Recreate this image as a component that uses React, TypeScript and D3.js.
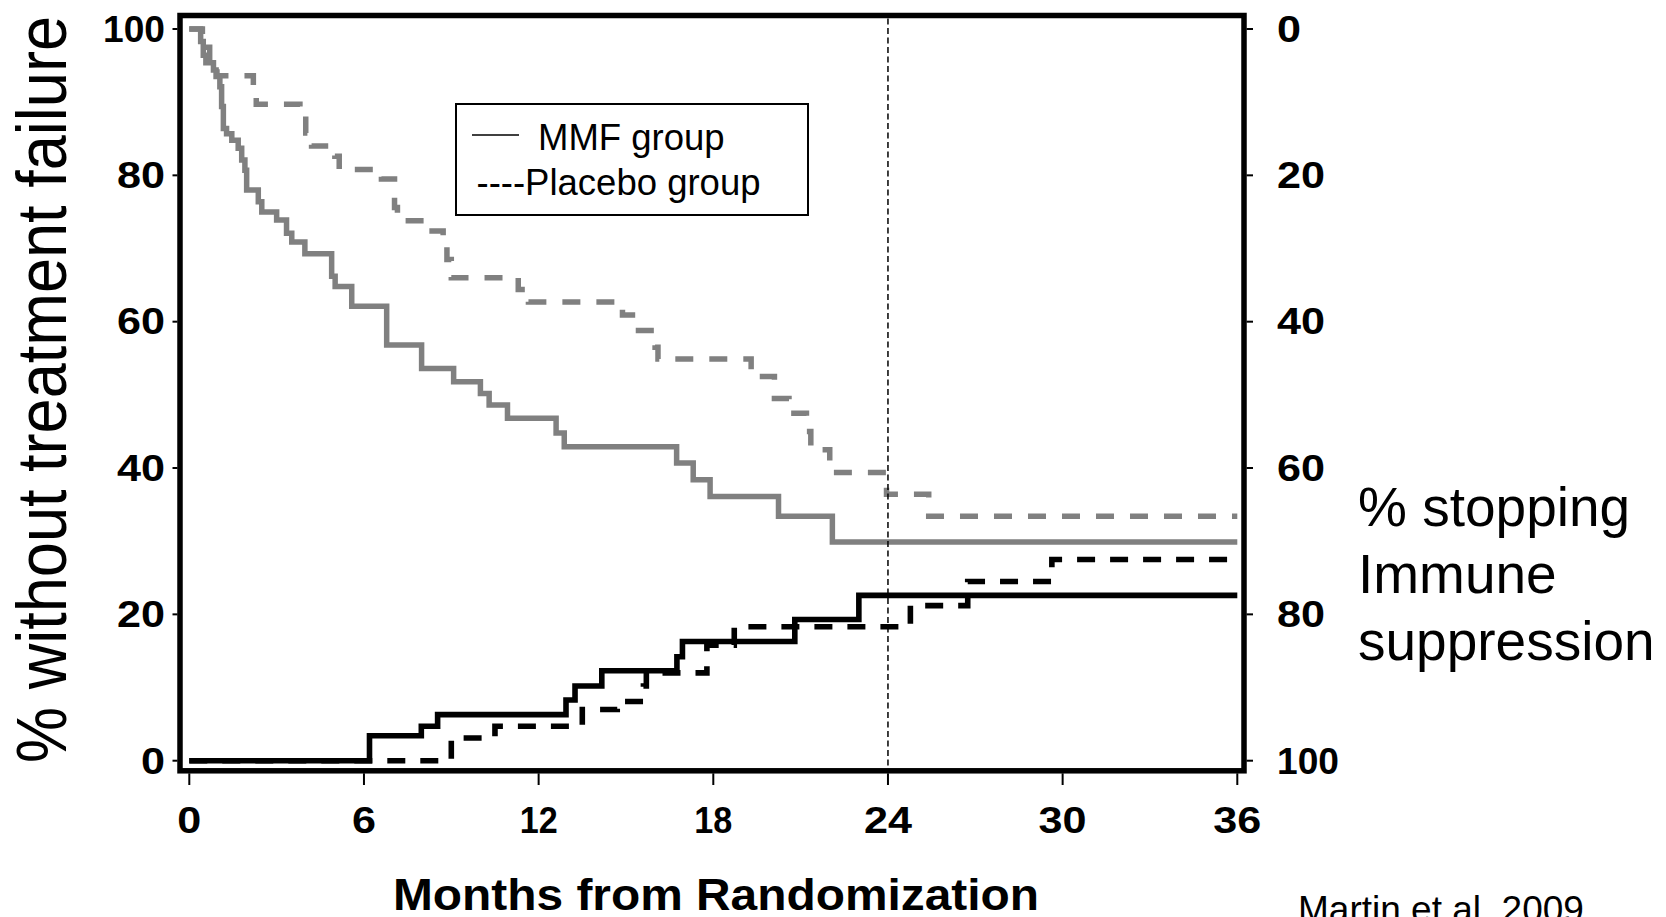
import React from "react";
import * as d3 from "d3";

// ---- data ----
const xTicks = [0, 6, 12, 18, 24, 30, 36];
const yLeftTicks = [0, 20, 40, 60, 80, 100];
const yRightTicks = [0, 20, 40, 60, 80, 100];

// % without treatment failure, MMF group (grey solid)
const mmfFreeTime = [0, 0.39, 0.48, 0.57, 0.83, 0.92, 1.05, 1.11, 1.17, 1.28, 1.46, 1.68, 1.8, 1.91, 1.97, 2.37, 2.49, 3.0, 3.34, 3.52, 3.97, 4.89, 5.01, 5.58, 6.78, 7.98, 9.08, 10.0, 10.3, 10.93, 12.6, 12.88, 16.74, 17.31, 17.89, 20.24, 22.09, 36];
const mmfFreeValue = [100, 98.3, 96.4, 95.4, 94.4, 93.5, 92.1, 89.4, 86.4, 85.7, 84.8, 83.7, 82.1, 80.7, 78.0, 76.4, 75.0, 73.9, 72.1, 70.9, 69.3, 66.2, 64.8, 62.1, 56.8, 53.6, 51.8, 50.2, 48.6, 46.8, 44.8, 42.9, 40.7, 38.4, 36.1, 33.4, 29.9, 29.9];

// % without treatment failure, Placebo group (grey dashed)
const plaFreeTime = [0, 0.45, 0.7, 0.95, 2.2, 2.3, 3.8, 4.0, 4.2, 5.0, 5.15, 6.6, 7.05, 7.15, 8.1, 8.72, 8.85, 9.0, 11.3, 11.65, 14.88, 15.43, 16.0, 16.1, 19.3, 20.1, 20.6, 21.2, 21.35, 22.0, 23.95, 25.4, 36];
const plaFreeValue = [100, 97.5, 95.5, 93.6, 91.5, 89.7, 88.3, 85.8, 84.0, 82.6, 80.8, 79.5, 75.6, 73.8, 72.4, 70.5, 68.5, 66.0, 64.4, 62.7, 60.9, 58.8, 56.5, 54.9, 52.5, 49.5, 47.5, 45.0, 42.5, 39.4, 36.4, 33.4, 33.4];

// stopping immune suppression, MMF group (black solid), in left-axis units
const mmfStopTime = [0, 6.19, 7.97, 8.53, 12.94, 13.25, 14.17, 16.75, 16.94, 20.8, 23.0, 36];
const mmfStopValue = [0, 3.4, 4.7, 6.3, 8.3, 10.2, 12.3, 14.2, 16.3, 19.3, 22.6, 22.6];

// stopping immune suppression, Placebo group (black dashed), in left-axis units
const plaStopTime = [0, 9.0, 10.5, 13.5, 14.7, 15.6, 15.7, 17.78, 18.72, 24.77, 26.74, 29.63, 36];
const plaStopValue = [0, 3.1, 4.7, 7.0, 8.1, 10.2, 12.0, 15.8, 18.3, 21.2, 24.5, 27.5, 27.5];

const cutoffMonth = 24;

const legendLabels = ["MMF group", "----Placebo group"];
const rightTitle = ["% stopping", "Immune", "suppression"];

const FONT = "'Liberation Sans', Arial, Helvetica, sans-serif";
const GREY = "#808080";

function zip(t: number[], v: number[]) {
  return t.map((x, i) => [x, v[i]] as [number, number]);
}

// approximate label widths: narrow "1" in the original font
function labelWidth(s: string) {
  let w = 0;
  for (const c of s) w += c === "1" ? 14 : 24;
  return w;
}

export default function App() {
  const W = 1666;
  const H = 917;
  const x = d3.scaleLinear().domain([0, 36]).range([189.3, 1237.3]);
  const yL = d3.scaleLinear().domain([0, 100]).range([760.7, 29]);
  const yR = d3.scaleLinear().domain([0, 100]).range([29, 760.7]);

  const line = d3
    .line<[number, number]>()
    .x((d) => x(d[0]))
    .y((d) => yL(d[1]))
    .curve(d3.curveStepAfter);

  const frame = { left: 180, right: 1244, top: 15.5, bottom: 770.8 };

  return (
    <svg
      width={W}
      height={H}
      style={{ position: "absolute", left: 0, top: 0, display: "block", background: "#fff" }}
      fontFamily={FONT}
    >
      <rect x={0} y={0} width={W} height={H} fill="#fff" />

      {/* curves */}
      <path d={line(zip(mmfFreeTime, mmfFreeValue)) || ""} fill="none" stroke={GREY} strokeWidth={5.5} />
      <path
        d={line(zip(plaFreeTime, plaFreeValue)) || ""}
        fill="none"
        stroke={GREY}
        strokeWidth={5.5}
        strokeDasharray="18,16"
      />
      <path
        d={line(zip(plaStopTime, plaStopValue)) || ""}
        fill="none"
        stroke="#000"
        strokeWidth={5.6}
        strokeDasharray="18,15"
      />
      <path d={line(zip(mmfStopTime, mmfStopValue)) || ""} fill="none" stroke="#000" strokeWidth={5.6} />

      {/* 24-month reference line */}
      <line
        x1={x(cutoffMonth)}
        x2={x(cutoffMonth)}
        y1={frame.top + 3}
        y2={frame.bottom - 2}
        stroke="#000"
        strokeWidth={1.5}
        strokeDasharray="6,3.5"
      />

      {/* frame */}
      <rect
        x={frame.left}
        y={frame.top}
        width={frame.right - frame.left}
        height={frame.bottom - frame.top}
        fill="none"
        stroke="#000"
        strokeWidth={5.5}
      />

      {/* x ticks + labels */}
      {xTicks.map((t) => (
        <g key={"xt" + t}>
          <line x1={x(t)} x2={x(t)} y1={frame.bottom + 2.5} y2={785} stroke="#000" strokeWidth={2} />
          <text
            x={x(t)}
            y={833}
            textAnchor="middle"
            fontSize={37}
            fontWeight="bold"
            textLength={labelWidth(String(t))}
            lengthAdjust="spacingAndGlyphs"
          >
            {t}
          </text>
        </g>
      ))}

      {/* left y ticks + labels */}
      {yLeftTicks.map((t) => (
        <g key={"yl" + t}>
          <line x1={172.5} x2={frame.left - 2.5} y1={yL(t)} y2={yL(t)} stroke="#000" strokeWidth={2} />
          <text
            x={165}
            y={yL(t) + 12.8}
            textAnchor="end"
            fontSize={37}
            fontWeight="bold"
            textLength={labelWidth(String(t))}
            lengthAdjust="spacingAndGlyphs"
          >
            {t}
          </text>
        </g>
      ))}

      {/* right y ticks + labels */}
      {yRightTicks.map((t) => (
        <g key={"yr" + t}>
          <line x1={frame.right + 2.5} x2={1253} y1={yR(t)} y2={yR(t)} stroke="#000" strokeWidth={2} />
          <text
            x={1277}
            y={yR(t) + 12.8}
            textAnchor="start"
            fontSize={37}
            fontWeight="bold"
            textLength={labelWidth(String(t))}
            lengthAdjust="spacingAndGlyphs"
          >
            {t}
          </text>
        </g>
      ))}

      {/* legend */}
      <rect x={456} y={104} width={352} height={111} fill="#fff" stroke="#000" strokeWidth={2} />
      <line x1={472} x2={519} y1={135} y2={135} stroke="#000" strokeWidth={1.6} />
      <text x={538} y={150} fontSize={36.5}>
        {legendLabels[0]}
      </text>
      <text x={476.5} y={195} fontSize={36.5}>
        {legendLabels[1]}
      </text>

      {/* axis titles */}
      <text
        transform="translate(66,389.5) rotate(-90)"
        textAnchor="middle"
        fontSize={70}
        textLength={747}
        lengthAdjust="spacingAndGlyphs"
      >
        % without treatment failure
      </text>
      <text
        x={393}
        y={910}
        fontSize={44}
        fontWeight="bold"
        textLength={646}
        lengthAdjust="spacingAndGlyphs"
      >
        Months from Randomization
      </text>
      {rightTitle.map((s, i) => (
        <text key={s} x={1358} y={526 + i * 67} fontSize={55}>
          {s}
        </text>
      ))}
      <text x={1298} y={922} fontSize={37}>
        Martin et al. 2009
      </text>
    </svg>
  );
}
